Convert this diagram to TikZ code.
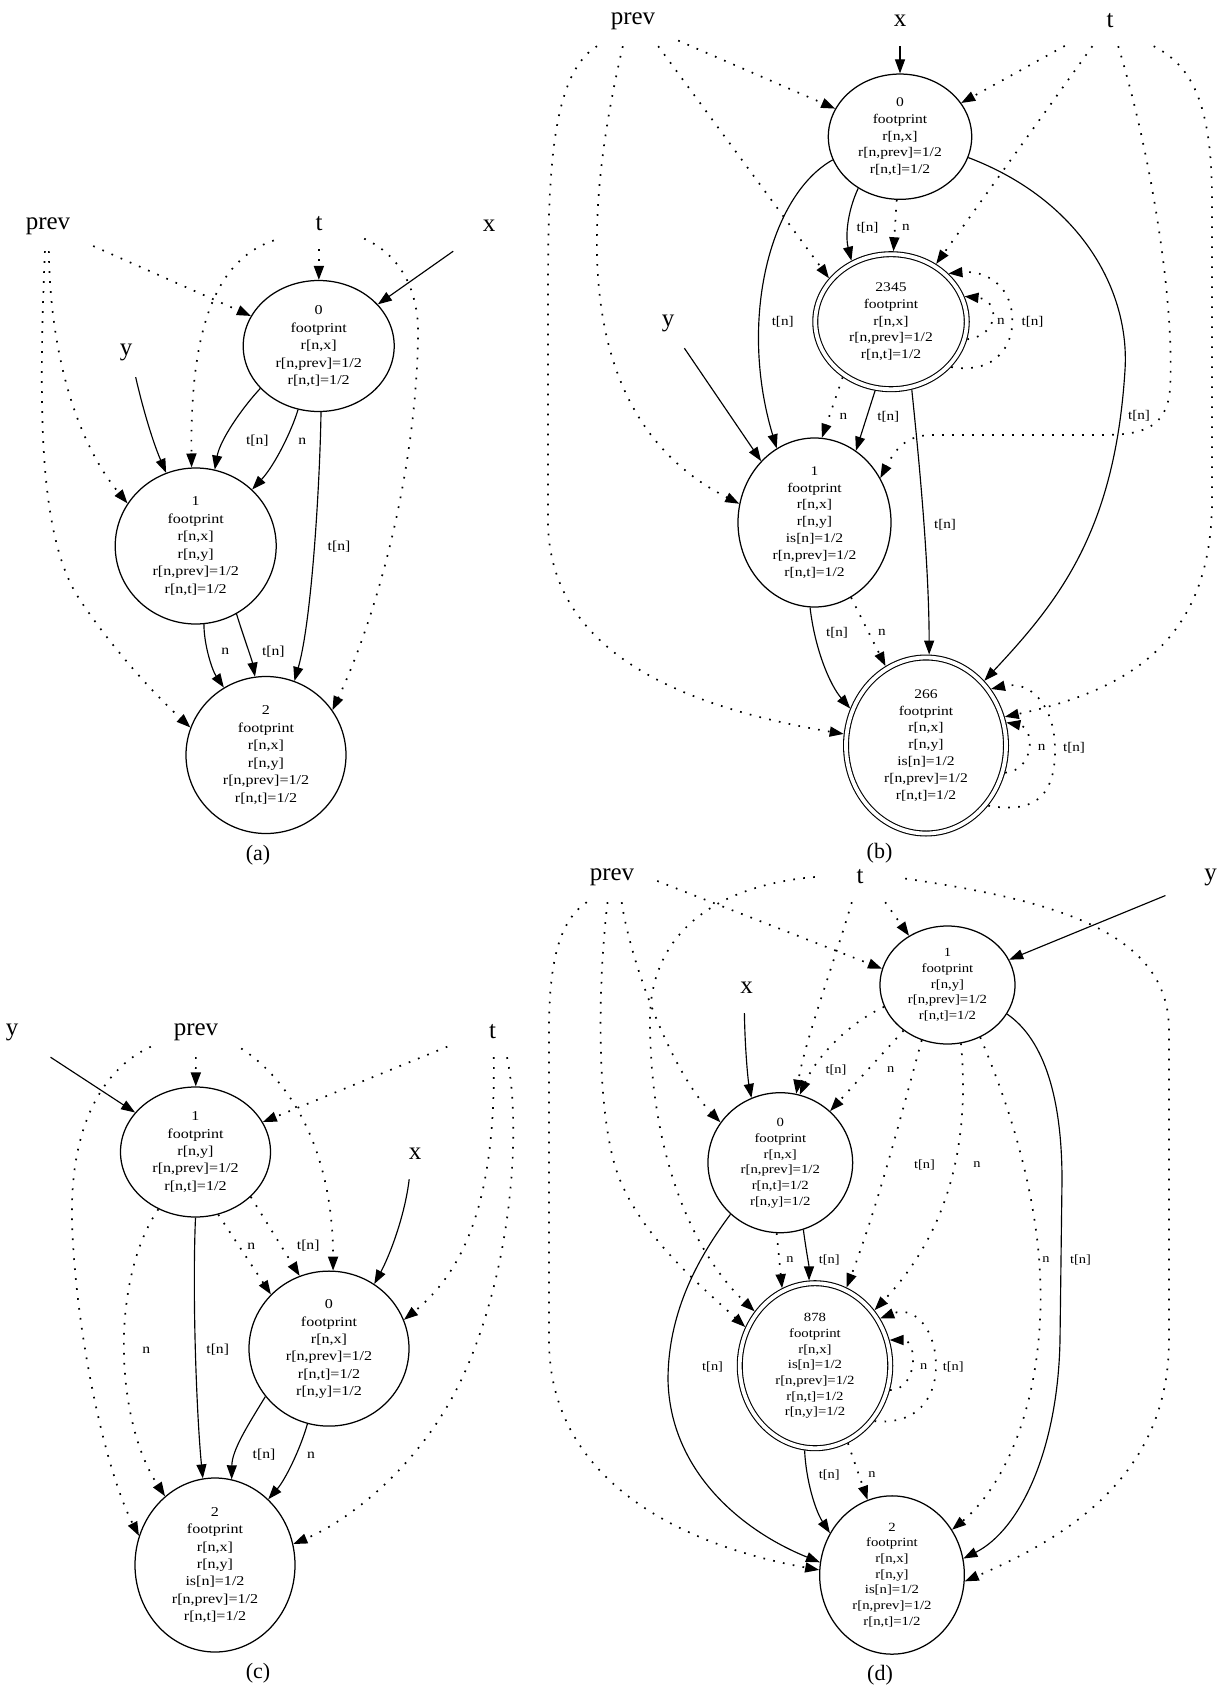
\documentclass[tikz,border=0pt]{standalone}
\usepackage{fontspec}
\usepackage{graphicx}
\setmainfont{Liberation Serif}
\usetikzlibrary{shapes.geometric,arrows.meta}
\newcommand\nt[1]{\scalebox{1.18}[1]{\begin{tabular}{@{}c@{}}#1\end{tabular}}}
\newcommand\el[1]{\scalebox{1.15}[1]{#1}}
\tikzset{
  nd/.style={ellipse, draw, line width=1.25pt, inner sep=0pt},
  dbl/.style={ellipse, draw, line width=1.1pt, double, double distance=3.8pt, inner sep=0pt, outer sep=3pt},
  lbl/.style={rectangle, minimum width=90pt, minimum height=50pt, inner sep=0pt, font=\fontsize{25}{30}\selectfont},
  captlbl/.style={inner sep=0pt, font=\fontsize{22}{26}\selectfont},
  elab/.style={inner sep=0pt},
  solidedge/.style={line width=1.15pt, -{Triangle[length=14pt,width=10pt]}},
  dotedge/.style={line width=1.7pt, dash pattern=on 1.7pt off 8.3pt, -{Triangle[length=14pt,width=10pt]}},
  fa/.style={font=\fontsize{13.6}{17.5}\selectfont},
  fb/.style={font=\fontsize{13.2}{16.9}\selectfont},
  fc/.style={font=\fontsize{13.6}{17.3}\selectfont},
  fd/.style={font=\fontsize{12.5}{15.7}\selectfont},
}
\begin{document}
\begin{tikzpicture}[x=1pt,y=-1pt]
\useasboundingbox (0,0) rectangle (1225,1688);

% ================= panel (a) =================
\node[lbl] (prevA) at (48,226) {prev};
\node[lbl] (tA) at (319,224) {t};
\node[lbl] (xA) at (489,226) {x};
\node[lbl] (yA) at (126,352) {y};
\node[nd,fa,minimum width=151pt,minimum height=131pt] (A0) at (318.7,346) {\nt{0\\footprint\\r[n,x]\\r[n,prev]=1/2\\r[n,t]=1/2}};
\node[nd,fa,minimum width=161pt,minimum height=156pt] (A1) at (195.7,546) {\nt{1\\footprint\\r[n,x]\\r[n,y]\\r[n,prev]=1/2\\r[n,t]=1/2}};
\node[nd,fa,minimum width=160pt,minimum height=157pt] (A2) at (266,755) {\nt{2\\footprint\\r[n,x]\\r[n,y]\\r[n,prev]=1/2\\r[n,t]=1/2}};
\node[captlbl] (capA) at (258,855) {(a)};

\draw[solidedge] (xA) -- (A0);
\draw[dotedge] (tA) -- (A0);
\draw[dotedge] (prevA) -- (A0);
\draw[dotedge] (tA.200) .. controls (215,260) and (190,330) .. (A1.93);
\draw[dotedge] (tA.-18) .. controls (400,255) and (420,290) .. (418,340) .. controls (415,480) and (375,620) .. (A2.34);
\draw[dotedge] (prevA.-88) .. controls (50,350) and (75,440) .. (A1.148);
\draw[dotedge] (prevA.-97) .. controls (38,420) and (40,540) .. (80,600) .. controls (110,645) and (150,690) .. (A2.160);
\draw[solidedge] (yA.-69) .. controls (142,405) and (152,440) .. (A1.112);
\draw[solidedge] (A0.216) .. controls (242,408) and (220,440) .. (A1.76);
\draw[solidedge] (A0.252) .. controls (292,430) and (275,465) .. (A1.45);
\draw[solidedge] (A0.-88) .. controls (320,480) and (312,620) .. (A2.69);
\draw[solidedge] (A1.-84) .. controls (204,645) and (212,670) .. (A2.122);
\draw[solidedge] (A1.-59) .. controls (243,635) and (252,660) .. (A2.98);
\node[elab,fa] (la1) at (257.3,440.8) {\el{t[n]}};
\node[elab,fa] (la2) at (302.3,440.8) {\el{n}};
\node[elab,fa] (la3) at (339,546.5) {\el{t[n]}};
\node[elab,fa] (la4) at (225.3,651.7) {\el{n}};
\node[elab,fa] (la5) at (273.3,651.7) {\el{t[n]}};

% ================= panel (b) =================
\node[lbl] (prevB) at (633,21) {prev};
\node[lbl] (xB) at (900,21) {x};
\node[lbl] (tB) at (1110,21) {t};
\node[lbl] (yB) at (668,323) {y};
\node[nd,fb,minimum width=143.4pt,minimum height=125.3pt] (B0) at (900,136.7) {\nt{0\\footprint\\r[n,x]\\r[n,prev]=1/2\\r[n,t]=1/2}};
\node[dbl,fb,minimum width=151.5pt,minimum height=135pt] (B2345) at (891,321.7) {\nt{2345\\footprint\\r[n,x]\\r[n,prev]=1/2\\r[n,t]=1/2}};
\node[nd,fb,minimum width=153pt,minimum height=169pt] (B1) at (814.5,522.5) {\nt{1\\footprint\\r[n,x]\\r[n,y]\\is[n]=1/2\\r[n,prev]=1/2\\r[n,t]=1/2}};
\node[dbl,fb,minimum width=160pt,minimum height=176pt] (B266) at (926,745.5) {\nt{266\\footprint\\r[n,x]\\r[n,y]\\is[n]=1/2\\r[n,prev]=1/2\\r[n,t]=1/2}};
\node[captlbl] (capB) at (879.5,853) {(b)};

\draw[solidedge] (xB) -- (B0);
\draw[dotedge] (tB) -- (B0);
\draw[dotedge] (prevB) -- (B0);
\draw[dotedge] (prevB.-45) -- (B2345.145);
\draw[dotedge] (prevB.-112) .. controls (580,230) and (575,420) .. (B1.166);
\draw[dotedge] (prevB.-145) .. controls (550,75) and (548,180) .. (548,300) -- (548,520) .. controls (548,630) and (640,700) .. (B266.172);
\draw[dotedge] (tB.-125) -- (B2345.52);
\draw[dotedge] (tB.-72) .. controls (1150,150) and (1175,300) .. (1170,390) .. controls (1166,430) and (1140,435) .. (1100,435) -- (930,435) .. controls (905,436) and (895,450) .. (B1.34);
\draw[dotedge] (tB.-30) .. controls (1190,65) and (1212,100) .. (1212,200) -- (1212,500) .. controls (1212,640) and (1130,690) .. (B266.20);
\draw[solidedge] (B0.-129) .. controls (848,210) and (845,235) .. (B2345.123);
\draw[dotedge] (B0.-93) -- (B2345.88);
\draw[solidedge] (B0.199) .. controls (770,195) and (738,320) .. (B1.117);
\draw[solidedge] (B0.-17) .. controls (1080,200) and (1130,290) .. (1125,370) .. controls (1115,530) and (1060,600) .. (B266.48);
\draw[dotedge] (B2345.-131) -- (B1.85);
\draw[solidedge] (B2345.-103) -- (B1.60);
\draw[solidedge] (B2345.-73) .. controls (918,450) and (929,560) .. (B266.88);
\draw[solidedge] (B1.-93) .. controls (815,650) and (830,685) .. (B266.154);
\draw[dotedge] (B1.-64) -- (B266.117);
\draw[solidedge] (yB.-57) -- (B1.131);
\draw[dotedge] (B2345.-13) .. controls (1000,335) and (1000,300) .. (B2345.19);
\draw[dotedge] (B2345.-37) .. controls (1000,375) and (1015,340) .. (1012,315) .. controls (1010,285) and (985,270) .. (B2345.40);
\draw[dotedge] (B266.-19) .. controls (1035,770) and (1035,728) .. (B266.16);
\draw[dotedge] (B266.-44) .. controls (1040,815) and (1055,790) .. (1055,750) .. controls (1055,705) and (1030,680) .. (B266.41);
\node[elab,fb] (lb1) at (867.5,227.7) {\el{t[n]}};
\node[elab,fb] (lb2) at (905.8,227.7) {\el{n}};
\node[elab,fb] (lb3) at (782.7,321.7) {\el{t[n]}};
\node[elab,fb] (lb4) at (1139,416) {\el{t[n]}};
\node[elab,fb] (lb5) at (843.3,416.7) {\el{n}};
\node[elab,fb] (lb6) at (888.3,416.7) {\el{t[n]}};
\node[elab,fb] (lb7) at (945,525) {\el{t[n]}};
\node[elab,fb] (lb8) at (837,632.3) {\el{t[n]}};
\node[elab,fb] (lb9) at (882,632.3) {\el{n}};
\node[elab,fb] (lb10) at (1001,321.7) {\el{n}};
\node[elab,fb] (lb11) at (1032.5,321.7) {\el{t[n]}};
\node[elab,fb] (lb12) at (1041.7,747.3) {\el{n}};
\node[elab,fb] (lb13) at (1074,747.3) {\el{t[n]}};

% ================= panel (c) =================
\node[lbl] (yC) at (12,1032) {y};
\node[lbl] (prevC) at (196,1032) {prev};
\node[lbl] (tC) at (492.5,1032) {t};
\node[lbl] (xC) at (415,1154) {x};
\node[nd,fc,minimum width=150pt,minimum height=130pt] (C1) at (195.5,1152) {\nt{1\\footprint\\r[n,y]\\r[n,prev]=1/2\\r[n,t]=1/2}};
\node[nd,fc,minimum width=160pt,minimum height=155pt] (C0) at (329,1348.6) {\nt{0\\footprint\\r[n,x]\\r[n,prev]=1/2\\r[n,t]=1/2\\r[n,y]=1/2}};
\node[nd,fc,minimum width=160pt,minimum height=174pt] (C2) at (215,1565) {\nt{2\\footprint\\r[n,x]\\r[n,y]\\is[n]=1/2\\r[n,prev]=1/2\\r[n,t]=1/2}};
\node[captlbl] (capC) at (258,1673) {(c)};

\draw[solidedge] (yC) -- (C1);
\draw[dotedge] (prevC) -- (C1);
\draw[dotedge] (tC.198) -- (C1.24);
\draw[dotedge] (prevC.-20) .. controls (290,1080) and (333,1150) .. (C0.87);
\draw[dotedge] (prevC.198) .. controls (100,1070) and (70,1130) .. (72,1220) .. controls (75,1330) and (105,1470) .. (C2.159);
\draw[dotedge] (C1.-123) .. controls (110,1280) and (115,1420) .. (C2.126);
\draw[solidedge] (C1.-90) .. controls (192,1300) and (197,1420) .. (C2.98);
\draw[dotedge] (C1.-70) -- (C0.137);
\draw[dotedge] (C1.-39) -- (C0.112);
\draw[solidedge] (xC.-103) .. controls (405,1215) and (390,1255) .. (C0.55);
\draw[dotedge] (tC.-87) .. controls (495,1170) and (478,1260) .. (C0.21);
\draw[dotedge] (tC.-60) .. controls (520,1120) and (515,1250) .. (470,1360) .. controls (430,1460) and (350,1520) .. (C2.15);
\draw[solidedge] (C0.217) .. controls (248,1425) and (232,1450) .. (C2.79);
\draw[solidedge] (C0.-106) .. controls (300,1450) and (285,1480) .. (C2.51);
\node[elab,fc] (lc1) at (146.4,1350) {\el{n}};
\node[elab,fc] (lc2) at (217.7,1350) {\el{t[n]}};
\node[elab,fc] (lc3) at (251.4,1245.8) {\el{n}};
\node[elab,fc] (lc4) at (308.2,1245.8) {\el{t[n]}};
\node[elab,fc] (lc5) at (264,1455) {\el{t[n]}};
\node[elab,fc] (lc6) at (311,1455) {\el{n}};

% ================= panel (d) =================
\node[lbl] (prevD) at (612,877) {prev};
\node[lbl] (tD) at (860,877) {t};
\node[lbl] (yD) at (1210.6,877) {y};
\node[lbl] (xD) at (746.6,988) {x};
\node[nd,fd,minimum width=135pt,minimum height=118pt] (D1) at (947.5,985) {\nt{1\\footprint\\r[n,y]\\r[n,prev]=1/2\\r[n,t]=1/2}};
\node[nd,fd,minimum width=144.7pt,minimum height=140pt] (D0) at (780.3,1162.7) {\nt{0\\footprint\\r[n,x]\\r[n,prev]=1/2\\r[n,t]=1/2\\r[n,y]=1/2}};
\node[dbl,fd,minimum width=150.5pt,minimum height=165pt] (D878) at (815,1365.7) {\nt{878\\footprint\\r[n,x]\\is[n]=1/2\\r[n,prev]=1/2\\r[n,t]=1/2\\r[n,y]=1/2}};
\node[nd,fd,minimum width=144.7pt,minimum height=158.3pt] (D2) at (892,1575) {\nt{2\\footprint\\r[n,x]\\r[n,y]\\is[n]=1/2\\r[n,prev]=1/2\\r[n,t]=1/2}};
\node[captlbl] (capD) at (880,1675) {(d)};

\draw[solidedge] (yD) -- (D1);
\draw[dotedge] (tD.-45) -- (D1.128);
\draw[dotedge] (prevD.-5) -- (D1.166);
\draw[solidedge] (xD.-95) .. controls (745,1050) and (748,1080) .. (D0.114);
\draw[dotedge] (D1.199) .. controls (845,1025) and (815,1060) .. (D0.74);
\draw[dotedge] (D1.-134) -- (D0.46);
\draw[dotedge] (tD.-108) .. controls (835,960) and (805,1040) .. (D0.77);
\draw[dotedge] (prevD.-69) .. controls (630,960) and (670,1070) .. (D0.146);
\draw[dotedge] (D0.-93) -- (D878.113);
\draw[solidedge] (D0.-71) .. controls (806,1250) and (809,1265) .. (D878.94);
\draw[dotedge] (D1.-115) .. controls (905,1100) and (880,1200) .. (D878.68);
\draw[dotedge] (D1.-77) .. controls (968,1120) and (960,1220) .. (D878.43);
\draw[dotedge] (D1.-58) .. controls (1020,1130) and (1045,1230) .. (1040,1320) .. controls (1035,1420) and (1000,1490) .. (D2.37);
\draw[solidedge] (D1.-26) .. controls (1045,1040) and (1062,1100) .. (1062,1180) -- (1060,1340) .. controls (1058,1450) and (1020,1530) .. (D2.13);
\draw[dotedge] (tD.-2) .. controls (1050,900) and (1169,930) .. (1169,1030) -- (1169,1340) .. controls (1169,1480) and (1060,1540) .. (D2.-5);
\draw[dotedge] (prevD.-135) .. controls (560,920) and (549,960) .. (549,1030) -- (549,1340) .. controls (549,1480) and (680,1545) .. (D2.176);
\draw[dotedge] (prevD.-100) .. controls (598,980) and (595,1120) .. (620,1180) .. controls (645,1240) and (700,1285) .. (D878.151);
\draw[dotedge] (tD.180) .. controls (720,885) and (650,930) .. (650,1020) .. controls (650,1150) and (690,1250) .. (D878.138);
\draw[dotedge] (D878.-18) .. controls (918,1390) and (918,1340) .. (D878.19);
\draw[dotedge] (D878.-43) .. controls (920,1425) and (936,1395) .. (936,1366) .. controls (936,1330) and (915,1305) .. (D878.36);
\draw[solidedge] (D878.-97) .. controls (806,1480) and (815,1510) .. (D2.146);
\draw[dotedge] (D878.-67) -- (D2.108);
\draw[solidedge] (D0.-134) .. controls (700,1255) and (668,1310) .. (668,1380) .. controls (670,1470) and (740,1530) .. (D2.170);
\node[elab,fd] (ld1) at (836,1070) {\el{t[n]}};
\node[elab,fd] (ld2) at (890.7,1070) {\el{n}};
\node[elab,fd] (ld3) at (790,1260) {\el{n}};
\node[elab,fd] (ld4) at (829.3,1260) {\el{t[n]}};
\node[elab,fd] (ld5) at (924.5,1165) {\el{t[n]}};
\node[elab,fd] (ld6) at (977,1165) {\el{n}};
\node[elab,fd] (ld7) at (1046,1260) {\el{n}};
\node[elab,fd] (ld8) at (1080.4,1260) {\el{t[n]}};
\node[elab,fd] (ld9) at (923.6,1366.7) {\el{n}};
\node[elab,fd] (ld10) at (953.3,1366.7) {\el{t[n]}};
\node[elab,fd] (ld11) at (829.2,1475) {\el{t[n]}};
\node[elab,fd] (ld12) at (872,1475) {\el{n}};
\node[elab,fd] (ld13) at (712.6,1366.7) {\el{t[n]}};
\end{tikzpicture}
\end{document}
